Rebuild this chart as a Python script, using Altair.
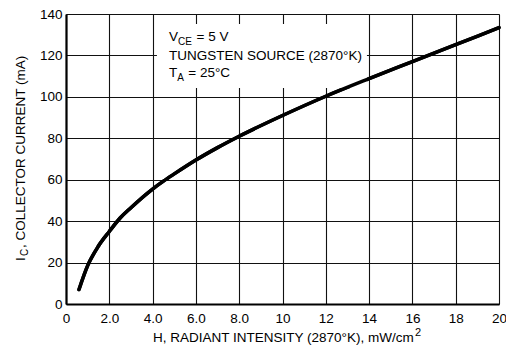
import altair as alt
import pandas as pd

FONT = "Liberation Sans, Arial, Helvetica, sans-serif"

# Curve: H (mW/cm^2) vs I_C (mA)
h_values = [0.6, 1.0, 1.5, 2.0, 2.5, 3.0, 4.0, 4.5, 5.0, 6.0, 7.0, 8.0,
            10.0, 12.0, 14.0, 16.0, 18.0, 20.0]
ic_values = [7, 18.5, 28, 35, 41.5, 46.5, 55.5, 59.3, 62.8, 69.5, 75.5, 81,
             91, 100.3, 108.8, 117, 125.2, 133.4]

x_ticks = [0, 2, 4, 6, 8, 10, 12, 14, 16, 18, 20]
x_tick_labels = ["0", "2.0", "4.0", "6.0", "8.0", "10", "12", "14", "16", "18", "20"]
y_ticks = [0, 20, 40, 60, 80, 100, 120, 140]

x_title = "H, RADIANT INTENSITY (2870°K), mW/cm"
x_title_sup = "2"
y_title_main = "I"
y_title_sub = "C"
y_title_rest = ", COLLECTOR CURRENT (mA)"

note_line1 = ["V", "CE", "= 5 V"]
note_line2 = "TUNGSTEN SOURCE (2870°K)"
note_line3 = ["T", "A", "= 25°C"]

W, H = 433, 290
FS = 13.5
SUB = 10

curve = pd.DataFrame({"h": h_values, "ic": ic_values})

label_expr = "''"
for v, lab in reversed(list(zip(x_ticks, x_tick_labels))):
    label_expr = f"datum.value == {v} ? '{lab}' : ({label_expr})"

xscale = alt.Scale(domain=[0, 20], nice=False, zero=False)
yscale = alt.Scale(domain=[0, 140], nice=False)

one = pd.DataFrame({"a": [0]})

base_line = alt.Chart(curve).mark_line(
    color="black", strokeWidth=3.5, interpolate="monotone", strokeCap="round"
).encode(
    x=alt.X("h:Q", scale=xscale,
            axis=alt.Axis(values=x_ticks, labelExpr=label_expr, title=None,
                          ticks=False, grid=True, gridColor="#111", gridWidth=1.1,
                          domainColor="black", domainWidth=2.2,
                          labelFont=FONT, labelFontSize=13.5, labelColor="black",
                          labelPadding=7, labelFlush=False)),
    y=alt.Y("ic:Q", scale=yscale,
            axis=alt.Axis(values=y_ticks, title=None, ticks=False, grid=True,
                          gridColor="#111", gridWidth=1.1,
                          domainColor="black", domainWidth=2.2,
                          labelFont=FONT, labelFontSize=13.5, labelColor="black",
                          labelPadding=4)),
)

box = alt.Chart(one).mark_rect(color="white").encode(
    x=alt.datum(4.2, scale=xscale), x2=alt.datum(13.9),
    y=alt.datum(104.3, scale=yscale), y2=alt.datum(135.2),
)


def txt(s, x, y, size=FS, dy=0, angle=0, align="left"):
    return alt.Chart(one).mark_text(
        text=s, font=FONT, fontSize=size, color="black", align=align,
        baseline="alphabetic", dy=dy, angle=angle
    ).encode(x=x, y=y)


def dx_(v):
    return alt.datum(v, scale=xscale)


def dy_(v):
    return alt.datum(v, scale=yscale)


notes = [
    txt(note_line1[0], dx_(4.757), dy_(127.0)),
    txt(note_line1[1], dx_(5.17), dy_(127.0), size=SUB, dy=4),
    txt(note_line1[2], dx_(6.03), dy_(127.0)),
    txt(note_line2, dx_(4.757), dy_(118.0)),
    txt(note_line3[0], dx_(4.757), dy_(109.4)),
    txt(note_line3[1], dx_(5.14), dy_(109.4), size=SUB, dy=4),
    txt(note_line3[2], dx_(5.65), dy_(109.4)),
]

titles = [
    txt(x_title, alt.value(87), alt.value(328)),
    txt(x_title_sup, alt.value(349), alt.value(322), size=11),
    txt(y_title_main, alt.value(-41), alt.value(247), angle=270),
    txt(y_title_sub, alt.value(-38), alt.value(242), size=SUB, angle=270),
    txt(y_title_rest, alt.value(-41), alt.value(234), angle=270),
]

chart = alt.layer(base_line, box, *notes, base_line, *titles).properties(
    width=W, height=H,
    autosize=alt.AutoSizeParams(type="none"),
    padding={"left": 58, "top": 6, "right": 7, "bottom": 41},
).configure_view(
    stroke="black", strokeWidth=1.6
).configure(background="white")

chart.save("out.html", embed_options={"renderer": "svg", "actions": False})
